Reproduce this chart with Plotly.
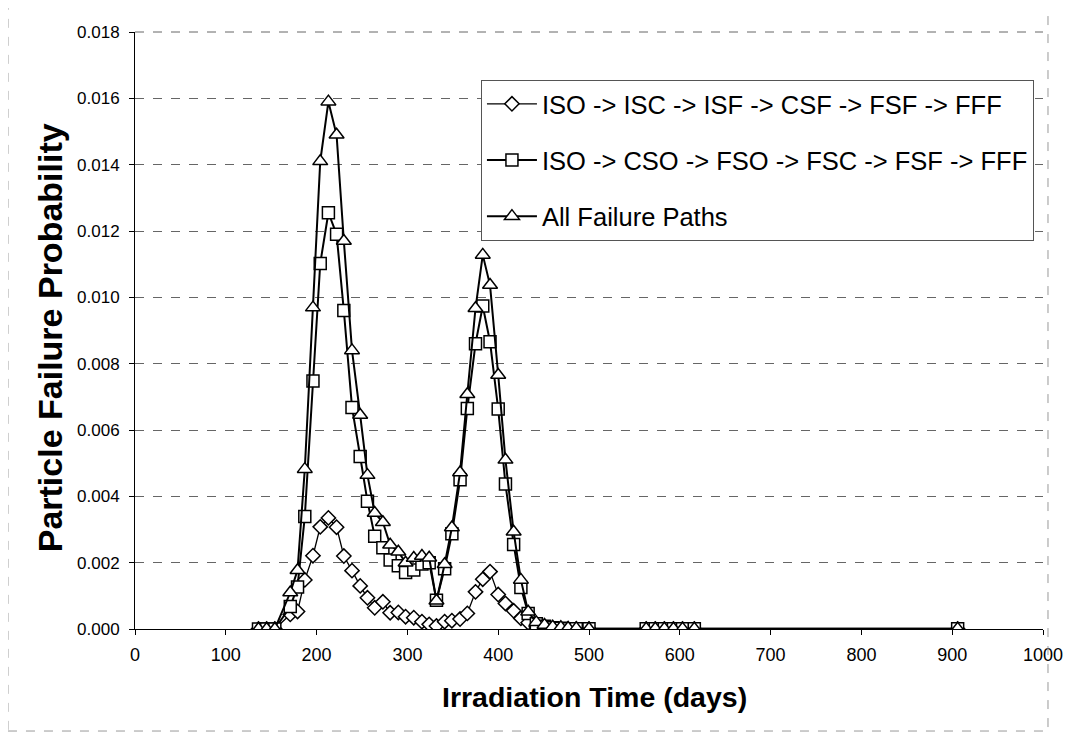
import plotly.graph_objects as go

days = [136, 145, 154, 171, 179, 187, 196, 204, 213, 222, 230, 239, 248,
        256, 264, 273, 281, 290, 298, 307, 316, 324, 332,
        341, 349, 358, 366, 375, 383, 391, 400, 408, 417,
        425, 433, 442, 451, 460, 469, 477, 486, 500,
        563, 573, 583, 593, 603, 616, 906]

path_isc = [0, 0, 0, 0.00044, 0.00053, 0.00148, 0.00221, 0.00308, 0.00335, 0.00307, 0.00220, 0.00176, 0.00130,
            0.00094, 0.00064, 0.00082, 0.00049, 0.00050, 0.00037, 0.00034, 0.00022, 0.00014, 0.00009,
            0.00022, 0.00025, 0.00030, 0.00047, 0.00112, 0.00150, 0.00173, 0.00104, 0.00077, 0.00055,
            0.00032, 0.00019, 0.00007, 0.00003, 0.00001, 0, 0, 0, 0,
            0, 0, 0, 0, 0, 0, 0]

path_cso = [0, 0, 0, 0.00068, 0.00127, 0.00339, 0.00748, 0.01102, 0.01255, 0.01190, 0.00960, 0.00668, 0.00520,
            0.00385, 0.00280, 0.00245, 0.00208, 0.00191, 0.00170, 0.00178, 0.00196, 0.00200, 0.00087,
            0.00182, 0.00287, 0.00450, 0.00665, 0.00860, 0.00974, 0.00866, 0.00663, 0.00437, 0.00255,
            0.00125, 0.00047, 0.00016, 0.00008, 0.00004, 0.00002, 0.00001, 0.00001, 0.00001,
            0.00001, 0.00001, 0.00001, 0.00001, 0.00001, 0.00001, 0.00001]

all_paths = [0, 0, 0, 0.00110, 0.00177, 0.00482, 0.00969, 0.01410, 0.01590, 0.01490, 0.01170, 0.00840, 0.00645,
             0.00464, 0.00350, 0.00322, 0.00254, 0.00233, 0.00200, 0.00214, 0.00220, 0.00215, 0.00085,
             0.00195, 0.00306, 0.00472, 0.00708, 0.00967, 0.01128, 0.01037, 0.00766, 0.00510, 0.00293,
             0.00148, 0.00052, 0.00020, 0.00012, 0.00007, 0.00005, 0.00003, 0.00002, 0.00001,
             0.00001, 0.00001, 0.00001, 0.00001, 0.00001, 0.00001, 0.00001]

names = ["ISO -> ISC -> ISF -> CSF -> FSF -> FFF",
         "ISO -> CSO -> FSO -> FSC -> FSF -> FFF",
         "All Failure Paths"]

x_ticks = [0, 100, 200, 300, 400, 500, 600, 700, 800, 900, 1000]
y_ticks = [0, 0.002, 0.004, 0.006, 0.008, 0.010, 0.012, 0.014, 0.016, 0.018]

FONT = "Liberation Sans, Arial, sans-serif"

fig = go.Figure()
series = [(path_isc, "diamond", 11, 1.3), (path_cso, "square", 12, 2.0), (all_paths, "triangle-up", 13, 2.0)]
for i, (vals, sym, size, lw) in enumerate(series):
    fig.add_trace(go.Scatter(
        x=days, y=vals, name=names[i], mode="lines+markers",
        legendgroup=f"g{i}",
        line=dict(color="black", width=lw),
        marker=dict(symbol=sym, size=size, color="white", line=dict(color="black", width=1.5)),
    ))

fig.update_layout(
    width=1078, height=736,
    margin=dict(l=127, r=43, t=24, b=115),
    paper_bgcolor="white", plot_bgcolor="white",
    font=dict(family=FONT, color="black"),
    showlegend=True,
    legend=dict(
        x=0.381, y=0.92, xanchor="left", yanchor="top",
        font=dict(family=FONT, size=25.5, color="black"),
        bgcolor="white", bordercolor="#555", borderwidth=1,
        tracegroupgap=20, itemwidth=50,
    ),
    xaxis=dict(
        range=[0, 1000], tickvals=x_ticks, ticktext=[str(v) for v in x_ticks],
        showgrid=False, zeroline=False,
        showline=True, linecolor="black", linewidth=1,
        ticks="outside", ticklen=5, tickcolor="black",
        ticklabelstandoff=4,
        tickfont=dict(family=FONT, size=18, color="black"),
    ),
    yaxis=dict(
        range=[0, 0.018], tickvals=y_ticks, ticktext=[f"{v:.3f}" for v in y_ticks],
        showgrid=True, gridcolor="#666", gridwidth=1, griddash="dash",
        zeroline=False,
        showline=True, linecolor="black", linewidth=1,
        ticks="outside", ticklen=5, tickcolor="black",
        ticklabelstandoff=6,
        tickfont=dict(family=FONT, size=17, color="black"),
    ),
    annotations=[
        dict(text="<b>Particle Failure Probability</b>", xref="paper", yref="paper",
             x=-0.0936, y=0.487, xanchor="center", yanchor="middle",
             textangle=-90, showarrow=False,
             font=dict(family=FONT, size=34, color="black")),
        dict(text="<b>Irradiation Time (days)</b>", xref="paper", yref="paper",
             x=0.5066, y=-0.1139, xanchor="center", yanchor="middle", showarrow=False,
             font=dict(family=FONT, size=28.5, color="black")),
    ],
    shapes=[
        dict(type="line", xref="paper", yref="paper", x0=0, x1=1, y0=1, y1=1,
             line=dict(color="#666", width=1, dash="dash")),
        dict(type="rect", xref="paper", yref="paper", x0=-0.1399, x1=1.0055, y0=-0.1709, y1=1.0503,
             line=dict(color="#999", width=1, dash="dash")),
    ],
)

fig.write_html("out.html")
